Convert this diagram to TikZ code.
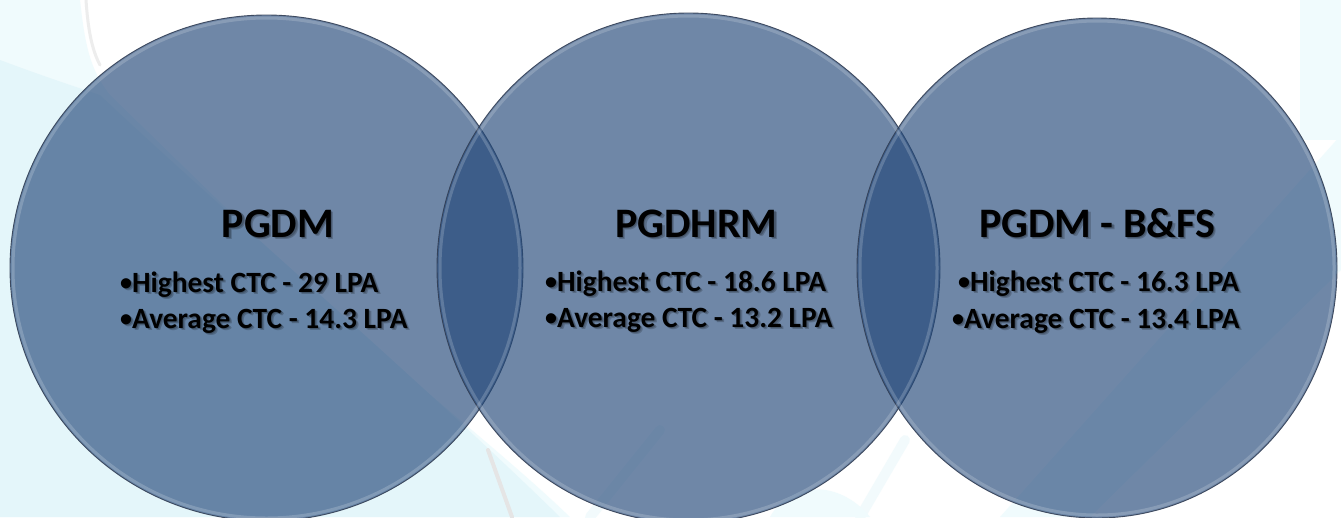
\documentclass[tikz,border=0pt]{standalone}
\usepackage{fontspec}
\setmainfont{Carlito}
\usetikzlibrary{shapes.geometric}

\definecolor{discblue}{RGB}{35,72,121}
\definecolor{rimline}{RGB}{50,62,84}
\definecolor{pale}{RGB}{228,246,250}
\definecolor{paler}{RGB}{240,251,253}

\tikzset{
  disc/.style={ellipse, draw=rimline, line width=0.9pt, fill=discblue,
    fill opacity=0.65, draw opacity=0.9, inner sep=0pt},
  rimlight/.style={draw=white, draw opacity=0.18, line width=3pt},
  headtext/.style={font=\fontsize{42}{42}\selectfont\bfseries, inner sep=0pt, anchor=base},
  linetext/.style={font=\fontsize{29.4}{30}\selectfont\bfseries, inner sep=0pt, anchor=base west},
  softshadow/.style={text=black, text opacity=0.2},
  streak/.style={draw=pale, line cap=round},
}

% smaller bullet, raised to the middle of the lower-case letters
\newcommand{\bul}{\raisebox{1.6pt}{\fontsize{24}{24}\selectfont•}}

% text with a soft drop shadow: name, x, y, style, text
\newcommand{\shadowlabel}[5]{%
  \node[#4, softshadow] (#1-s1) at (#2+1.2,#3+1.2) {#5};
  \node[#4, softshadow] (#1-s2) at (#2+2.4,#3+2.4) {#5};
  \node[#4] (#1) at (#2,#3) {#5};}

\begin{document}
\begin{tikzpicture}[x=1pt,y=-1pt]
\useasboundingbox (0,0) rectangle (1341,517);
\clip (0,0) rectangle (1341,517);

% backdrop: white with pale cyan swirls
\fill[white] (0,0) rectangle (1341,517);
\fill[paler] (0,0) -- (80,0) .. controls (85,45) and (90,70) .. (110,95)
  -- (300,280) .. controls (420,390) and (500,450) .. (570,517) -- (0,517) -- cycle;
\fill[pale] (0,60) .. controls (40,75) and (70,85) .. (100,95)
  .. controls (200,190) and (420,380) .. (560,517) -- (0,517) -- cycle;
\draw[draw=black!7, line width=3pt, line cap=round] (86,0) .. controls (88,30) and (92,50) .. (100,65);
\fill[paler] (1000,517) -- (1341,135) -- (1341,270) -- (1090,517) -- cycle;
\fill[paler] (1300,0) rectangle (1341,140);
\draw[streak, line width=10pt, opacity=0.45] (590,517) -- (660,430);
\draw[streak, line width=10pt, opacity=0.45] (860,517) -- (905,440);
\fill[paler] (770,517) .. controls (790,480) and (840,480) .. (870,517) -- cycle;
\draw[draw=black!10, line width=4pt, line cap=round] (488,450) -- (512,517);

% the three discs
\node[disc, minimum width=513pt, minimum height=506pt] (pgdm) at (266.5,268) {};
\node[disc, minimum width=503pt, minimum height=510pt] (hrm) at (688.5,268) {};
\node[disc, minimum width=480pt, minimum height=500pt] (bfs) at (1097,268) {};

% inner bevel highlight
\draw[rimlight] (pgdm.center) ellipse [x radius=253.5pt, y radius=250pt];
\draw[rimlight] (hrm.center) ellipse [x radius=248.5pt, y radius=252pt];
\draw[rimlight] (bfs.center) ellipse [x radius=237pt, y radius=247pt];

% headings
\shadowlabel{t1}{278}{237}{headtext}{PGDM}
\shadowlabel{t2}{696.5}{237}{headtext}{PGDHRM}
\shadowlabel{t3}{1097}{237}{headtext}{PGDM - B\&FS}

% figures
\shadowlabel{a1}{120}{292}{linetext}{\bul Highest CTC - 29 LPA}
\shadowlabel{b1}{120}{328}{linetext}{\bul Average CTC - 14.3 LPA}
\shadowlabel{a2}{545}{291}{linetext}{\bul Highest CTC - 18.6 LPA}
\shadowlabel{b2}{545}{327}{linetext}{\bul Average CTC - 13.2 LPA}
\shadowlabel{a3}{958}{291}{linetext}{\bul Highest CTC - 16.3 LPA}
\shadowlabel{b3}{952}{328}{linetext}{\bul Average CTC - 13.4 LPA}
\end{tikzpicture}
\end{document}
